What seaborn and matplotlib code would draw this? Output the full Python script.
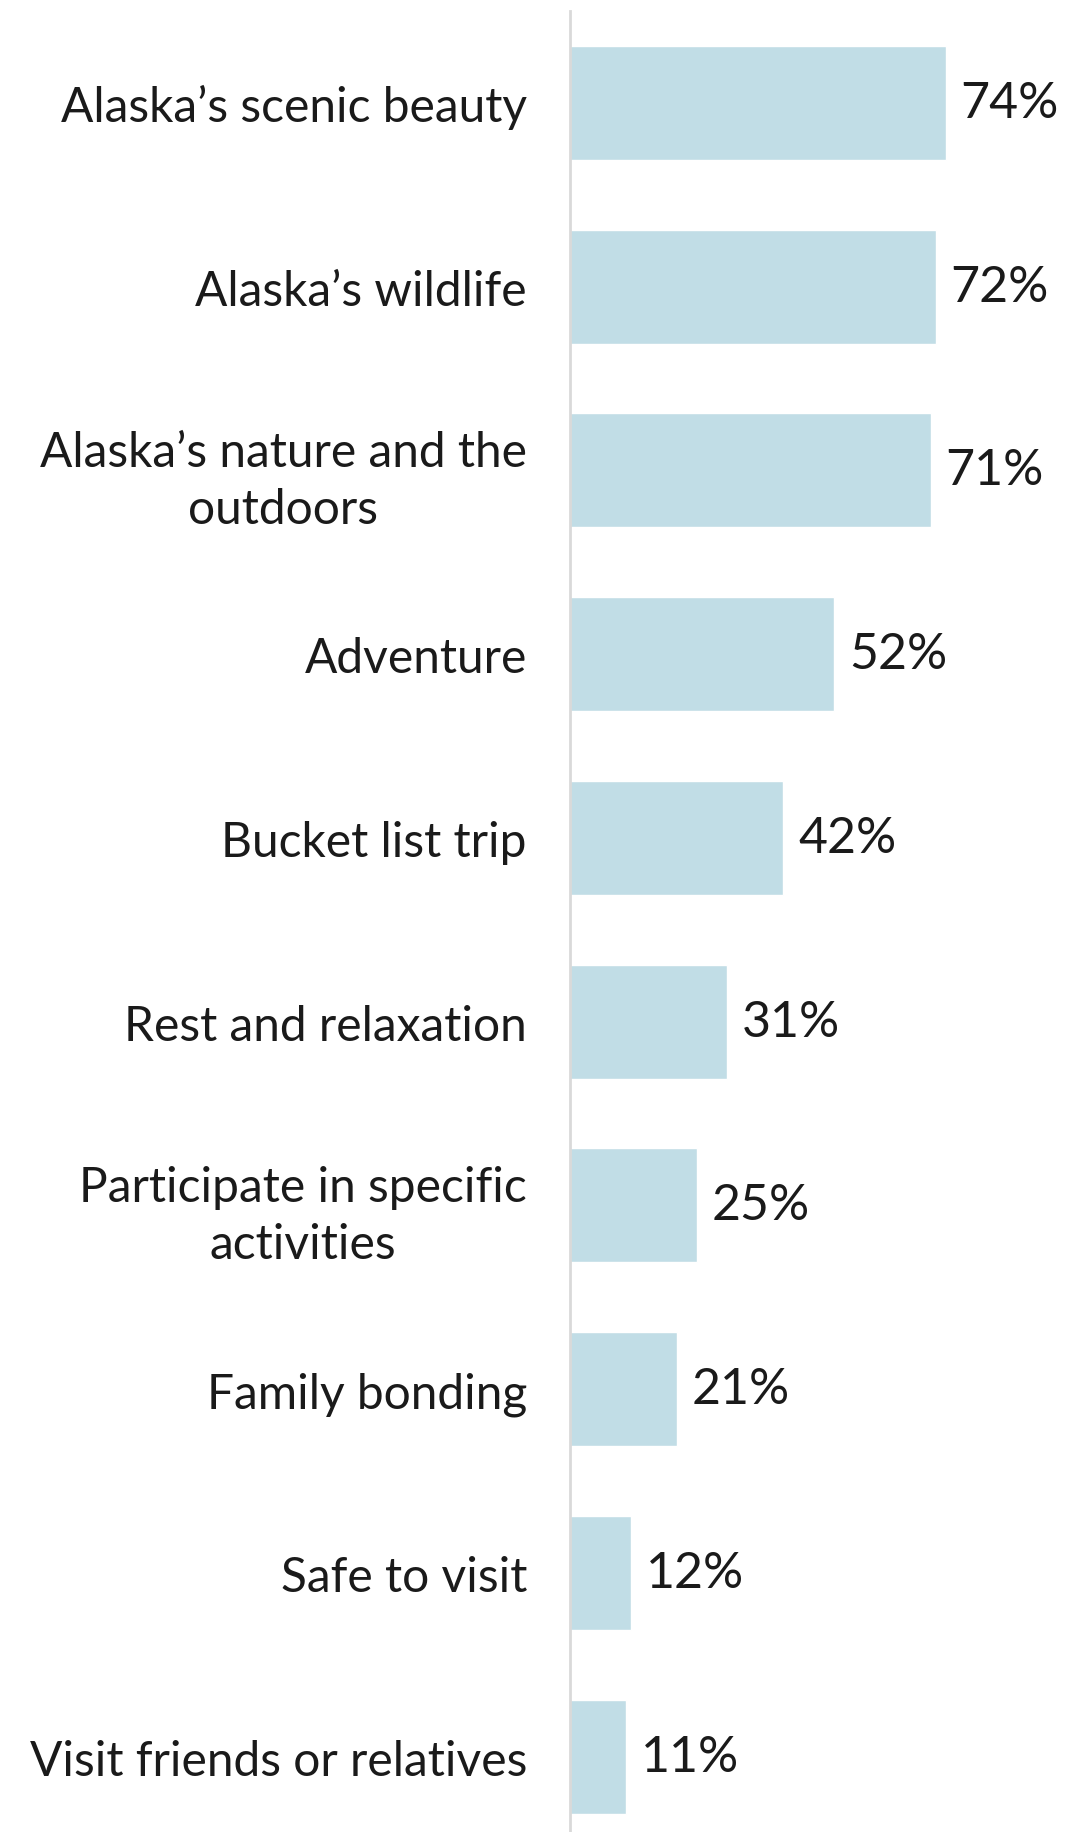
import matplotlib
matplotlib.use('Agg')
import matplotlib.pyplot as plt
import seaborn as sns
import pandas as pd

reasons = ["Alaska\u2019s scenic beauty", "Alaska\u2019s wildlife",
           "Alaska\u2019s nature and the\noutdoors", "Adventure",
           "Bucket list trip", "Rest and relaxation",
           "Participate in specific\nactivities", "Family bonding",
           "Safe to visit", "Visit friends or relatives"]
share = [74, 72, 71, 52, 42, 31, 25, 21, 12, 11]

df = pd.DataFrame({'reason': reasons, 'share': share})

sns.set_style('white')
plt.rcParams['font.family'] = ['Lato', 'DejaVu Sans']

fig = plt.figure(figsize=(10.75, 18.33), dpi=100)
ax = fig.add_axes([570 / 1075, 0, 505 / 1075, 1821 / 1833])

sns.barplot(data=df, x='share', y='reason', color='#C1DDE6', saturation=1,
            width=0.62, ax=ax)

ax.set_xlim(0, 99.4)
ax.set_ylim(9.41, -0.5)

# value labels
for i, v in enumerate(share):
    ax.text(v + 2.9, i, f'{v}%', va='center', ha='left', fontsize=36,
            color='#1a1a1a')

ax.set_xlabel('')
ax.set_ylabel('')
ax.set_xticks([])
ax.tick_params(axis='y', length=0, pad=31, labelsize=34.5, labelcolor='#1a1a1a')
for lbl in ax.get_yticklabels():
    lbl.set_multialignment('center')
    lbl.set_linespacing(1.35)

for s in ['top', 'right', 'bottom']:
    ax.spines[s].set_visible(False)
ax.spines['left'].set_color('#D9D9D9')
ax.spines['left'].set_linewidth(2)

fig.savefig('out.png', dpi=100)
